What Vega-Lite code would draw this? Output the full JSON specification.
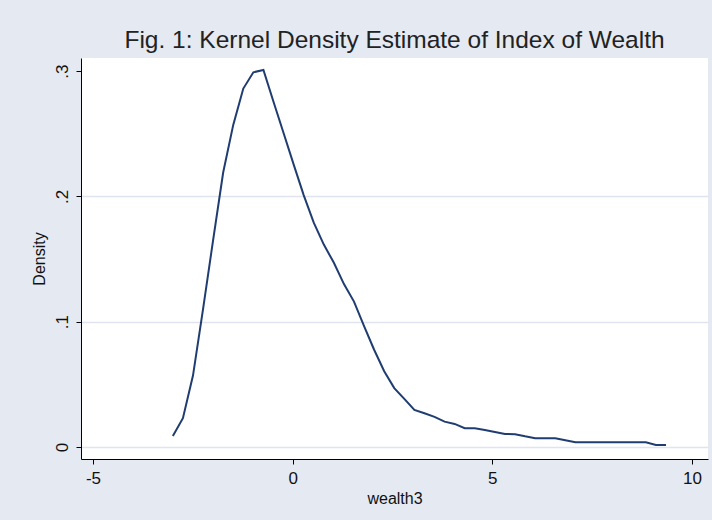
{
  "$schema": "https://vega.github.io/schema/vega-lite/v6.json",
  "autosize": {"type": "none"},
  "width": 627,
  "height": 401,
  "padding": {"left": 81, "top": 58, "right": 4, "bottom": 61},
  "background": "#e5e9f2",
  "view": {"fill": "white", "stroke": null},
  "config": {"font": "Liberation Sans"},
  "title": {
    "text": "Fig. 1: Kernel Density Estimate of Index of Wealth",
    "fontSize": 24.5,
    "fontWeight": "normal",
    "font": "Liberation Sans",
    "color": "#222222",
    "anchor": "middle",
    "offset": 5
  },
  "data": {
    "values": [
      {"wealth3": -3.000, "density": 0.0088},
      {"wealth3": -2.748, "density": 0.023},
      {"wealth3": -2.496, "density": 0.057},
      {"wealth3": -2.244, "density": 0.110},
      {"wealth3": -1.992, "density": 0.165},
      {"wealth3": -1.740, "density": 0.219},
      {"wealth3": -1.488, "density": 0.257},
      {"wealth3": -1.236, "density": 0.286},
      {"wealth3": -0.984, "density": 0.299},
      {"wealth3": -0.732, "density": 0.3008},
      {"wealth3": -0.480, "density": 0.2755},
      {"wealth3": -0.228, "density": 0.2505},
      {"wealth3": 0.024, "density": 0.2255},
      {"wealth3": 0.276, "density": 0.201},
      {"wealth3": 0.528, "density": 0.179},
      {"wealth3": 0.780, "density": 0.1615},
      {"wealth3": 1.032, "density": 0.147},
      {"wealth3": 1.284, "density": 0.130},
      {"wealth3": 1.536, "density": 0.116},
      {"wealth3": 1.788, "density": 0.0965},
      {"wealth3": 2.040, "density": 0.0776},
      {"wealth3": 2.292, "density": 0.0604},
      {"wealth3": 2.544, "density": 0.047},
      {"wealth3": 2.796, "density": 0.0384},
      {"wealth3": 3.048, "density": 0.0296},
      {"wealth3": 3.300, "density": 0.0269},
      {"wealth3": 3.552, "density": 0.024},
      {"wealth3": 3.804, "density": 0.0202},
      {"wealth3": 4.056, "density": 0.0184},
      {"wealth3": 4.308, "density": 0.015},
      {"wealth3": 4.560, "density": 0.015},
      {"wealth3": 4.812, "density": 0.0136},
      {"wealth3": 5.064, "density": 0.012},
      {"wealth3": 5.316, "density": 0.0104},
      {"wealth3": 5.568, "density": 0.0102},
      {"wealth3": 5.820, "density": 0.0085},
      {"wealth3": 6.072, "density": 0.007},
      {"wealth3": 6.324, "density": 0.007},
      {"wealth3": 6.576, "density": 0.007},
      {"wealth3": 6.828, "density": 0.0054},
      {"wealth3": 7.080, "density": 0.0038},
      {"wealth3": 7.332, "density": 0.0038},
      {"wealth3": 7.584, "density": 0.0038},
      {"wealth3": 7.836, "density": 0.0038},
      {"wealth3": 8.088, "density": 0.0038},
      {"wealth3": 8.340, "density": 0.0038},
      {"wealth3": 8.592, "density": 0.0038},
      {"wealth3": 8.844, "density": 0.0038},
      {"wealth3": 9.096, "density": 0.0016},
      {"wealth3": 9.348, "density": 0.0016}
    ]
  },
  "mark": {"type": "line", "color": "#1f3d70", "strokeWidth": 2, "interpolate": "linear"},
  "encoding": {
    "x": {
      "field": "wealth3",
      "type": "quantitative",
      "title": "wealth3",
      "scale": {"domain": [-5.3, 10.4], "nice": false, "zero": false},
      "axis": {
        "values": [-5, 0, 5, 10],
        "labelExpr": "toString(datum.value)",
        "grid": false,
        "domainColor": "#000000",
        "domainWidth": 1,
        "tickColor": "#000000",
        "tickSize": 5,
        "labelFontSize": 17,
        "labelColor": "#111111",
        "labelPadding": 6,
        "labelFont": "Liberation Sans",
        "titleFontSize": 16,
        "titleFontWeight": "normal",
        "titleColor": "#111111",
        "titleFont": "Liberation Sans",
        "titlePadding": 4
      }
    },
    "y": {
      "field": "density",
      "type": "quantitative",
      "title": "Density",
      "scale": {"domain": [-0.0096, 0.3104], "nice": false, "zero": false},
      "axis": {
        "values": [0, 0.1, 0.2, 0.3],
        "labelExpr": "datum.value == 0 ? '0' : replace(format(datum.value, '.1f'), '0.', '.')",
        "grid": true,
        "gridColor": "#dfe4ee",
        "gridWidth": 1.5,
        "gridOpacity": {"condition": {"test": "datum.value > 0.25", "value": 0}, "value": 1},
        "domainColor": "#000000",
        "domainWidth": 1,
        "tickColor": "#000000",
        "tickSize": 5,
        "labelAngle": -90,
        "labelAlign": "center",
        "labelBaseline": "bottom",
        "labelFontSize": 17,
        "labelColor": "#111111",
        "labelPadding": 5,
        "labelFont": "Liberation Sans",
        "titleFontSize": 16,
        "titleFontWeight": "normal",
        "titleColor": "#111111",
        "titleFont": "Liberation Sans",
        "titlePadding": 6
      }
    }
  }
}
